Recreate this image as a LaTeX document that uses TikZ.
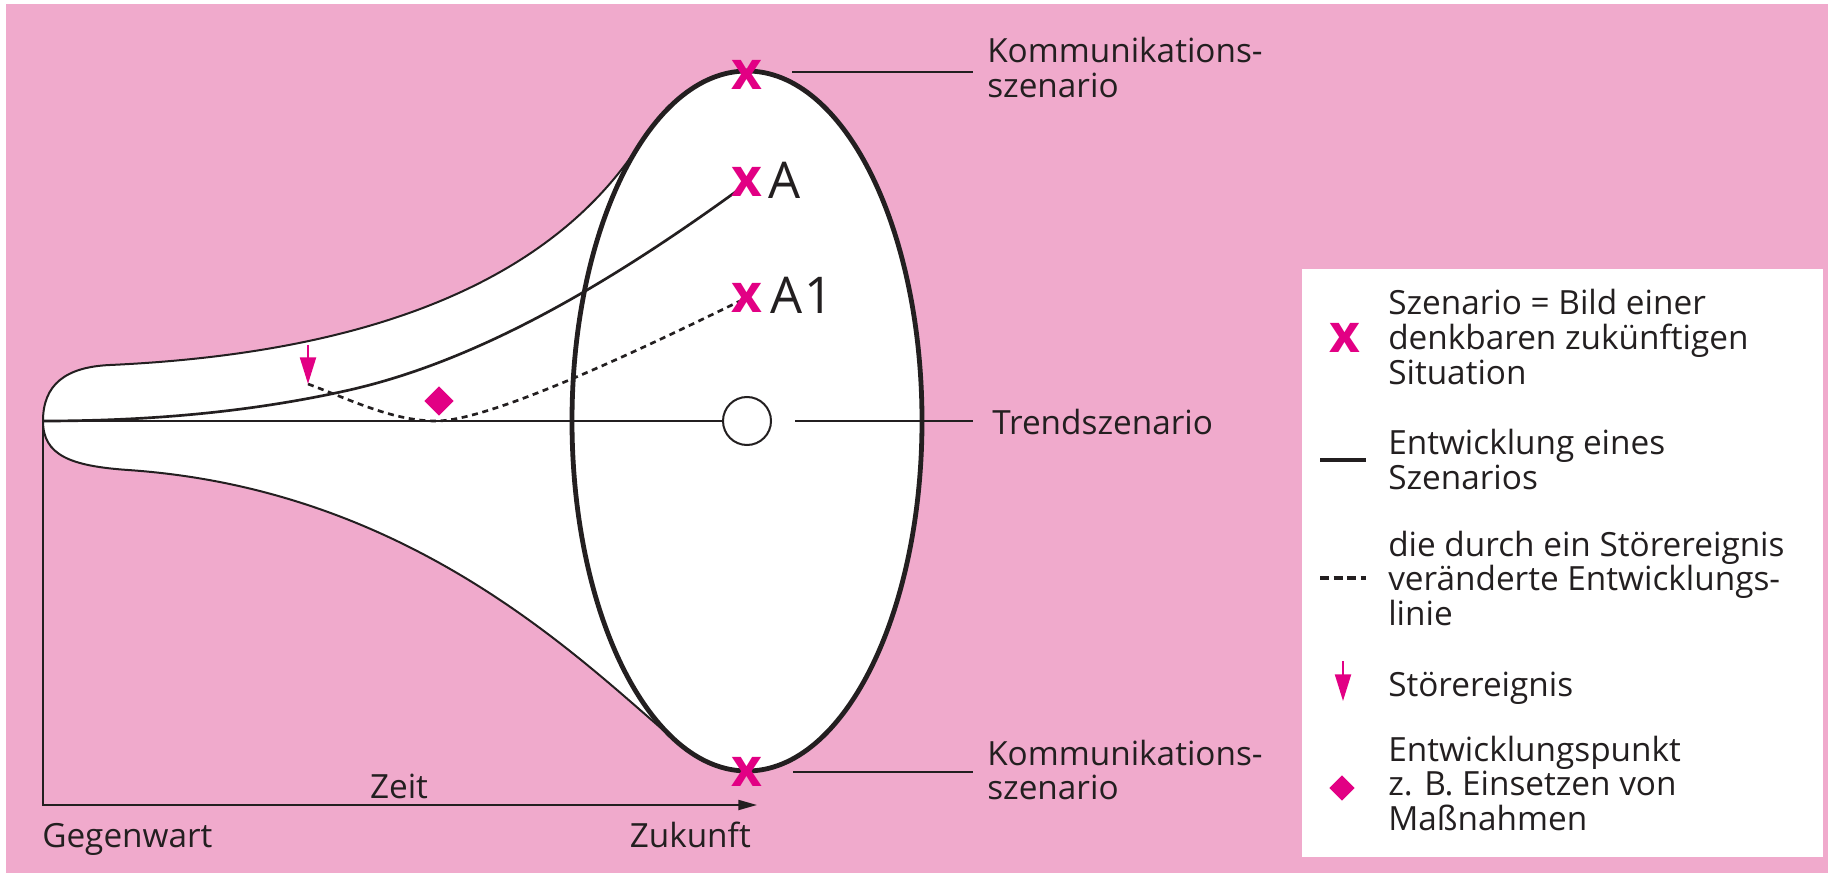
\documentclass[tikz,border=0pt]{standalone}
\usepackage{fontspec}
\setmainfont{Open Sans}
\usetikzlibrary{arrows.meta,shapes.geometric}
\definecolor{bgpink}{RGB}{240,170,204}
\definecolor{mag}{RGB}{226,0,132}
\definecolor{ink}{RGB}{35,31,32}
\begin{document}
\begin{tikzpicture}[x=0.75pt,y=-0.75pt,
  lbl/.style={font=\fontsize{25}{26}\selectfont, text=ink, inner sep=0pt, anchor=base west},
  biglbl/.style={font=\fontsize{38}{40}\selectfont, text=ink, inner sep=0pt, anchor=base west},
  xmark/.style={font=\fontsize{40}{40}\selectfont\bfseries, text=mag, inner sep=0pt},
  outline/.style={draw=ink, line width=1.5pt},
  conn/.style={draw=ink, line width=1.5pt},
  scen/.style={draw=ink, line width=2pt},
  altscen/.style={draw=ink, line width=2pt, dash pattern=on 4.5pt off 3.5pt},
  stoer/.style={draw=mag, line width=1.6pt, -{Triangle[length=20pt,width=12pt]}},
  punkt/.style={diamond, fill=mag, inner sep=0pt, minimum width=#1, minimum height=#1},
  legsym/.style={draw=ink, line width=3pt},
]
\useasboundingbox (0,0) rectangle (1828,873);
\fill[white] (0,0) rectangle (1828,873);
\fill[bgpink] (6,4) rectangle (1828,873);

% funnel
\draw[outline, fill=white] (682,746) .. controls (590,670) and (420,490) .. (128,470)
  .. controls (70,466) and (43,455) .. (43,421)
  .. controls (43,385) and (65,367) .. (110,365)
  .. controls (330,355) and (540,300) .. (641,142) -- cycle;

% ellipse
\draw[draw=ink, line width=3.6pt, fill=white] (747,421) ellipse [x radius=175, y radius=350];

% trend line
\coordinate (tip) at (43,421);
\node[circle, draw=ink, line width=1.5pt, fill=white, minimum size=36pt, inner sep=0pt] (trend) at (747,421) {};
\draw[conn] (tip) -- (trend.west);
\coordinate (tr0) at (795,421);
\coordinate (tr1) at (973,421);
\draw[conn] (tr0) -- (tr1);
\node[lbl] (trendlbl) at (992,435) {Trendszenario};

% scenario A
\coordinate (amid) at (345,391);
\coordinate (aend) at (741,188);
\draw[scen] (tip) .. controls (144,421) and (245,413) .. (amid)
  .. controls (477,362) and (609,284) .. (aend);
% altered line A1
\coordinate (s1) at (308,384);
\coordinate (dmin) at (436,421);
\coordinate (dend) at (740,301);
\draw[altscen] (s1) .. controls (351,400) and (393,421) .. (dmin)
  .. controls (490,421) and (640,350) .. (dend);

% disturbance arrow
\coordinate (s0) at (308,345);
\draw[stoer] (s0) -- (s1);
% development point
\node[punkt=22pt] (ep) at (439,401) {};

% scenario marks
\node[xmark] (xtop) at (747,75) {x};
\node[xmark] (xa) at (747,182) {x};
\node[xmark] (xa1) at (747,298) {x};
\node[xmark] (xbot) at (747,772) {x};
\node[biglbl] (la) at (768,199) {A};
\node[biglbl] (la1) at (770,314) {A\kern2pt 1};

% communication scenario labels
\coordinate (kt0) at (792,72);
\coordinate (kt1) at (973,72);
\draw[conn] (kt0) -- (kt1);
\node[lbl] (kt) at (987,63) {\vtop{\hbox{Kommunikations-}\hbox{szenario}}};
\coordinate (kb0) at (793,772);
\coordinate (kb1) at (973,772);
\draw[conn] (kb0) -- (kb1);
\node[lbl] (kb) at (987,765) {\vtop{\hbox{Kommunikations-}\hbox{szenario}}};

% time axis
\coordinate (ax0) at (43,805);
\coordinate (ax1) at (757,805);
\draw[conn, -{Triangle[length=14pt,width=7.5pt]}] (tip) -- (ax0) -- (ax1);
\node[lbl, anchor=base] (zeit) at (399,798) {Zeit};
\node[lbl] (gw) at (42,847) {Gegenwart};
\node[lbl, anchor=base east] (zk) at (751,847) {Zukunft};

% legend
\fill[white] (1302,269) rectangle (1823,857);
\node[xmark] (lx) at (1345,338) {x};
\node[lbl] (l1) at (1388,315) {\vtop{\hbox{Szenario = Bild einer}\hbox{denkbaren zukünftigen}\hbox{Situation}}};
\coordinate (ls0) at (1320,460);
\coordinate (ls1) at (1366,460);
\draw[legsym] (ls0) -- (ls1);
\node[lbl] (l2) at (1388,455) {\vtop{\hbox{Entwicklung eines}\hbox{Szenarios}}};
\coordinate (ld0) at (1320,578);
\coordinate (ld1) at (1366,578);
\draw[legsym, dash pattern=on 6.75pt off 3.4pt] (ld0) -- (ld1);
\node[lbl] (l3) at (1388,556) {\vtop{\hbox{die durch ein Störereignis}\hbox{veränderte Entwicklungs-}\hbox{linie}}};
\coordinate (la0) at (1343,661);
\coordinate (la1c) at (1343,701);
\draw[stoer] (la0) -- (la1c);
\node[lbl] (l4) at (1388,696) {Störereignis};
\node[punkt=19pt] (ldia) at (1342,788) {};
\node[lbl] (l5) at (1388,761) {\vtop{\hbox{Entwicklungspunkt}\hbox{z. B. Einsetzen von}\hbox{Maßnahmen}}};
\end{tikzpicture}
\end{document}
